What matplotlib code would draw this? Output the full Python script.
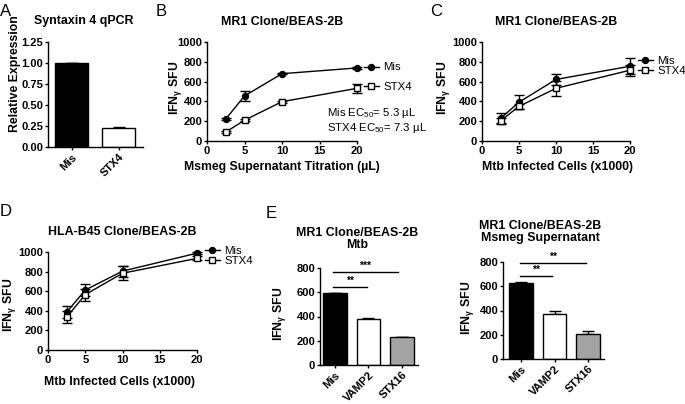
import matplotlib
matplotlib.use("Agg")
import matplotlib.pyplot as plt
from matplotlib.lines import Line2D

plt.rcParams['font.family'] = ['Liberation Sans', 'DejaVu Sans']
plt.rcParams['font.weight'] = 'bold'
plt.rcParams['mathtext.default'] = 'regular'

# ---------------- data ----------------
a_cats = ["Mis", "STX4"]
a_vals = [1.0, 0.225]
a_err = [0.0, 0.012]

x_b = [2.5, 5, 10, 20]
b_mis = [222, 455, 680, 738]
b_mis_err = [10, 55, 8, 10]
b_stx = [90, 210, 397, 532]
b_stx_err = [8, 10, 10, 48]

x_c = [2.5, 5, 10, 20]
c_mis = [228, 392, 622, 755]
c_mis_err = [55, 72, 52, 80]
c_stx = [203, 350, 532, 715]
c_stx_err = [25, 28, 75, 55]

x_d = [2.5, 5, 10, 20]
d_mis = [385, 612, 805, 988]
d_mis_err = [60, 65, 55, 12]
d_stx = [335, 565, 783, 935]
d_stx_err = [60, 60, 70, 20]

e_cats = ["Mis", "VAMP2", "STX16"]
e1_vals = [592, 383, 232]
e1_err = [5, 6, 0]
e2_vals = [625, 372, 207]
e2_err = [8, 25, 26]
bar_colors = ["black", "white", "#a3a3a3"]

# ---------------- layout helpers ----------------
W, H = 685, 404
fig = plt.figure(figsize=(W / 100, H / 100), dpi=100)


def fx(p):
    return p / W


def fy(p):
    return 1 - p / H


def mkax(l, r, t, b):
    return fig.add_axes([fx(l), fy(b), (r - l) / W, (b - t) / H])


TICK_FS = 8.0
LAB_FS = 8.8
TITLE_FS = 8.9


def style(ax):
    for s in ['top', 'right']:
        ax.spines[s].set_visible(False)
    for s in ['left', 'bottom']:
        ax.spines[s].set_linewidth(1.0)
    ax.tick_params(direction='out', length=2.5, width=1.0, labelsize=TICK_FS, pad=1.0)


def ylabel(ax, text, x, y):
    ax.set_ylabel(text, fontsize=LAB_FS, fontweight='bold', va='center')
    ax.yaxis.set_label_coords(fx(x), fy(y), transform=fig.transFigure)


def xlabel(ax, text, x, y):
    ax.set_xlabel(text, fontsize=LAB_FS, fontweight='bold', va='center')
    ax.xaxis.set_label_coords(fx(x), fy(y), transform=fig.transFigure)


def ftext(x, y, s, **kw):
    fig.text(fx(x), fy(y), s, **kw)


def title(x, y, s):
    ftext(x, y, s, ha='center', va='center', fontsize=TITLE_FS, fontweight='bold', linespacing=1.0)


def letter(x, y, s):
    ftext(x, y, s, ha='left', va='center', fontsize=12, fontweight='normal')


def line_panel(ax, x, m, me, s, se):
    ax.errorbar(x, m, yerr=me, color='black', marker='o', ms=4.3, lw=1.0,
                elinewidth=1.0, capsize=3.5, capthick=1.0, clip_on=False, zorder=3)
    ax.errorbar(x, s, yerr=se, color='black', marker='s', ms=4.6, mfc='white',
                mew=1.0, lw=1.0, elinewidth=1.0, capsize=3.5, capthick=1.0,
                clip_on=False, zorder=3)
    ax.set_xlim(0, 20)
    ax.set_ylim(0, 1000)
    ax.set_xticks([0, 5, 10, 15, 20])
    ax.set_yticks([0, 200, 400, 600, 800, 1000])
    style(ax)


def legend(ax, x, ytop, spacing):
    h = [Line2D([], [], color='black', marker='o', ms=4.3, lw=1.0),
         Line2D([], [], color='black', marker='s', ms=4.6, mfc='white', mew=1.0, lw=1.0)]
    ax.legend(h, ["Mis", "STX4"], loc='upper left', bbox_to_anchor=(fx(x), fy(ytop)),
              bbox_transform=fig.transFigure, frameon=False,
              prop={'size': 8.2, 'weight': 'normal'},
              borderpad=0, borderaxespad=0, handlelength=1.3, handletextpad=0.4,
              labelspacing=spacing)


def bar_panel(ax, cats, vals, err, colors, xlim, ylim, yticks):
    xs = list(range(len(cats)))
    ax.bar(xs, vals, width=0.7, color=colors, edgecolor='black', linewidth=1.0, zorder=2)
    ax.errorbar(xs, vals, yerr=[[0] * len(err), err], fmt='none', ecolor='black',
                elinewidth=1.0, capsize=4.5, capthick=1.0, zorder=1)
    ax.set_xlim(*xlim)
    ax.set_ylim(*ylim)
    ax.set_yticks(yticks)
    ax.set_xticks(xs)
    ax.set_xticklabels(cats, rotation=45, ha='right', rotation_mode='anchor')
    style(ax)


def sig(ax, x0, x1, y, s, dy):
    ax.plot([x0, x1], [y, y], color='black', lw=1.0, clip_on=False)
    ax.text((x0 + x1) / 2, y + dy, s, ha='center', va='bottom', fontsize=7.5, fontweight='bold')


# ---------------- Panel A ----------------
axA = mkax(48, 143, 42, 147)
bar_panel(axA, a_cats, a_vals, a_err, ["black", "white"], (-0.5, 1.52), (0, 1.25),
          [0, 0.25, 0.5, 0.75, 1.0, 1.25])
axA.set_yticklabels([f"{v:.2f}" for v in [0, 0.25, 0.5, 0.75, 1.0, 1.25]])
ylabel(axA, "Relative Expression", 15, 74)
title(84, 21, "Syntaxin 4 qPCR")
letter(0, 11, "A")

# ---------------- Panel B ----------------
axB = mkax(207, 357, 42, 141)
line_panel(axB, x_b, b_mis, b_mis_err, b_stx, b_stx_err)
ylabel(axB, "IFN$_{γ}$ SFU", 175, 88)
xlabel(axB, "Msmeg Supernatant Titration (µL)", 282, 167)
title(282, 22, "MR1 Clone/BEAS-2B")
letter(156, 11, "B")
legend(axB, 364, 62.5, 0.8)
ftext(327, 113, "Mis EC$_{50}$= 5.3 µL", ha='left', va='center', fontsize=8.2, fontweight='normal')
ftext(327, 128, "STX4 EC$_{50}$= 7.3 µL", ha='left', va='center', fontsize=8.2, fontweight='normal')

# ---------------- Panel C ----------------
axC = mkax(482, 630, 42, 141)
line_panel(axC, x_c, c_mis, c_mis_err, c_stx, c_stx_err)
ylabel(axC, "IFN$_{γ}$ SFU", 443, 88)
xlabel(axC, "Mtb Infected Cells (x1000)", 557, 167)
title(556, 22, "MR1 Clone/BEAS-2B")
letter(430, 11, "C")
legend(axC, 638, 55.5, 0.0)

# ---------------- Panel D ----------------
axD = mkax(48, 197, 252, 350)
line_panel(axD, x_d, d_mis, d_mis_err, d_stx, d_stx_err)
ylabel(axD, "IFN$_{γ}$ SFU", 9, 305)
xlabel(axD, "Mtb Infected Cells (x1000)", 120, 382)
title(122, 232, "HLA-B45 Clone/BEAS-2B")
letter(0, 211, "D")
legend(axD, 205, 245.5, 0.0)

# ---------------- Panel E (left) ----------------
axE1 = mkax(320, 418, 268, 365)
bar_panel(axE1, e_cats, e1_vals, e1_err, bar_colors, (-0.45, 2.48), (0, 800),
          [0, 200, 400, 600, 800])
ylabel(axE1, "IFN$_{γ}$ SFU", 280, 314)
title(357, 239.5, "MR1 Clone/BEAS-2B\nMtb")
letter(266, 213, "E")
sig(axE1, -0.06, 1.88, 767, "***", 8)
sig(axE1, -0.06, 0.96, 643, "**", 8)

# ---------------- Panel E (right) ----------------
axE2 = mkax(503, 604, 262, 359)
bar_panel(axE2, e_cats, e2_vals, e2_err, bar_colors, (-0.54, 2.48), (0, 800),
          [0, 200, 400, 600, 800])
ylabel(axE2, "IFN$_{γ}$ SFU", 467, 308)
title(540, 232, "MR1 Clone/BEAS-2B\nMsmeg Supernatant")
sig(axE2, -0.03, 1.94, 792, "**", 8)
sig(axE2, -0.03, 0.93, 685, "**", 8)

fig.savefig("out.png", dpi=100)
